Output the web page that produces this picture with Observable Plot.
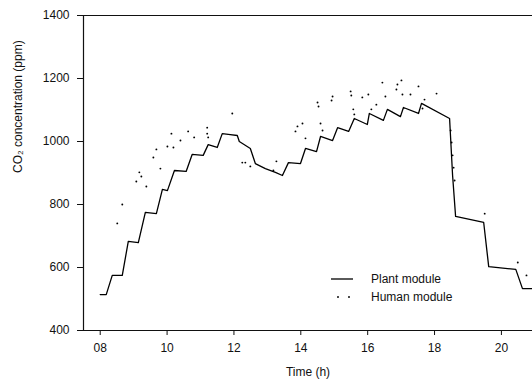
<!DOCTYPE html>
<html>
<head>
<meta charset="utf-8">
<script src="https://cdn.jsdelivr.net/npm/d3@7"></script>
<script src="https://cdn.jsdelivr.net/npm/@observablehq/plot@0.6"></script>
<style>
  body { margin: 0; background: #fff; }
  #wrap { position: relative; width: 532px; height: 385px; font-family: "Liberation Sans", Arial, sans-serif; }
  #legend { position: absolute; left: 331px; top: 270px; font-size: 12px; color: #111; }
  #legend .row { display: flex; align-items: center; height: 18px; }
  #legend .row span { margin-left: 18px; }
</style>
</head>
<body>
<div id="wrap"></div>
<script>
// Plant module (hours, ppm)
const plantTime = [8.00, 8.18, 8.36, 8.66, 8.84, 9.14, 9.35, 9.68, 9.86, 10.01, 10.22, 10.57, 10.75, 11.08, 11.23, 11.50, 11.65, 11.89, 12.10, 12.16, 12.49, 12.64, 12.94, 13.24, 13.45, 13.63, 13.99, 14.14, 14.47, 14.59, 14.95, 15.10, 15.43, 15.60, 15.99, 16.05, 16.47, 16.59, 16.98, 17.07, 17.52, 17.61, 18.45, 18.54, 18.63, 19.47, 19.62, 20.43, 20.63, 20.93];
const plantCO2  = [514, 514, 575, 575, 683, 679, 775, 771, 848, 844, 908, 905, 959, 956, 990, 981, 1025, 1022, 1019, 1000, 978, 930, 914, 902, 892, 933, 930, 978, 968, 1016, 1003, 1044, 1032, 1073, 1054, 1089, 1067, 1102, 1079, 1108, 1089, 1121, 1073, 892, 762, 743, 603, 594, 533, 533];

// Human module (hours, ppm)
const humanTime = [8.51, 8.66, 9.08, 9.17, 9.23, 9.38, 9.59, 9.68, 9.80, 10.01, 10.13, 10.19, 10.40, 10.63, 10.81, 11.20, 11.20, 11.23, 11.95, 12.25, 12.34, 12.49, 13.18, 13.27, 13.84, 13.90, 14.05, 14.14, 14.50, 14.53, 14.59, 14.65, 14.92, 14.95, 15.49, 15.51, 15.57, 15.60, 15.84, 16.02, 16.11, 16.26, 16.44, 16.53, 16.86, 16.89, 17.01, 17.04, 17.28, 17.52, 17.64, 17.70, 18.06, 18.48, 18.51, 18.54, 18.57, 18.60, 19.50, 20.49, 20.75];
const humanCO2  = [740, 800, 873, 902, 889, 857, 949, 975, 914, 984, 1025, 981, 1003, 1032, 1013, 1044, 1025, 1013, 1089, 933, 933, 921, 908, 937, 1032, 1048, 1057, 1010, 1124, 1111, 1057, 1035, 1130, 1143, 1159, 1146, 1102, 1086, 1140, 1149, 1102, 1117, 1187, 1143, 1165, 1181, 1194, 1149, 1149, 1175, 1105, 1133, 1152, 1035, 997, 956, 917, 876, 771, 616, 575];

const xTicks = [8, 10, 12, 14, 16, 18, 20];
const yTicks = [400, 600, 800, 1000, 1200, 1400];
const xDomain = [7.5, 20.93];
const yDomain = [400, 1400];

const plant = plantTime.map((t, i) => ({t, v: plantCO2[i]}));
const human = humanTime.map((t, i) => ({t, v: humanCO2[i]}));

const chart = Plot.plot({
  width: 532,
  height: 385,
  marginLeft: 83,
  marginRight: 0,
  marginTop: 15,
  marginBottom: 55,
  x: {domain: xDomain},
  y: {domain: yDomain},
  style: {fontFamily: "'Liberation Sans', Arial, sans-serif", fontSize: "12px", background: "#fff", color: "#111"},
  marks: [
    Plot.ruleX([xDomain[0]], {stroke: "#111", strokeWidth: 1.2}),
    Plot.ruleY(yDomain, {stroke: "#111", strokeWidth: 1.2}),
    Plot.axisX({ticks: xTicks, tickFormat: d => String(d).padStart(2, "0"), tickSize: 5, tickPadding: 8, label: null, stroke: "#111"}),
    Plot.axisY({ticks: yTicks, tickFormat: d => String(d), tickSize: 6, tickPadding: 8, label: null, stroke: "#111"}),
    Plot.line(plant, {x: "t", y: "v", stroke: "#000", strokeWidth: 1.3}),
    Plot.dot(human, {x: "t", y: "v", r: 0.95, fill: "#000", stroke: null}),
    Plot.text(["Time (h)"], {frameAnchor: "bottom", dy: 45, fill: "#111", fontSize: 12}),
    Plot.text(["CO₂ concentration (ppm)"], {frameAnchor: "left", dx: -65, rotate: -90, fill: "#111", fontSize: 12})
  ]
});

const wrap = document.getElementById("wrap");
wrap.appendChild(chart);

const legend = document.createElement("div");
legend.id = "legend";
legend.innerHTML = `
  <div class="row"><svg width="22" height="6"><line x1="0" x2="22" y1="3" y2="3" stroke="#000" stroke-width="1.3"/></svg><span>Plant module</span></div>
  <div class="row"><svg width="22" height="6"><circle cx="7" cy="3" r="0.95" fill="#000"/><circle cx="18" cy="3" r="0.95" fill="#000"/></svg><span>Human module</span></div>`;
wrap.appendChild(legend);
</script>
</body>
</html>
